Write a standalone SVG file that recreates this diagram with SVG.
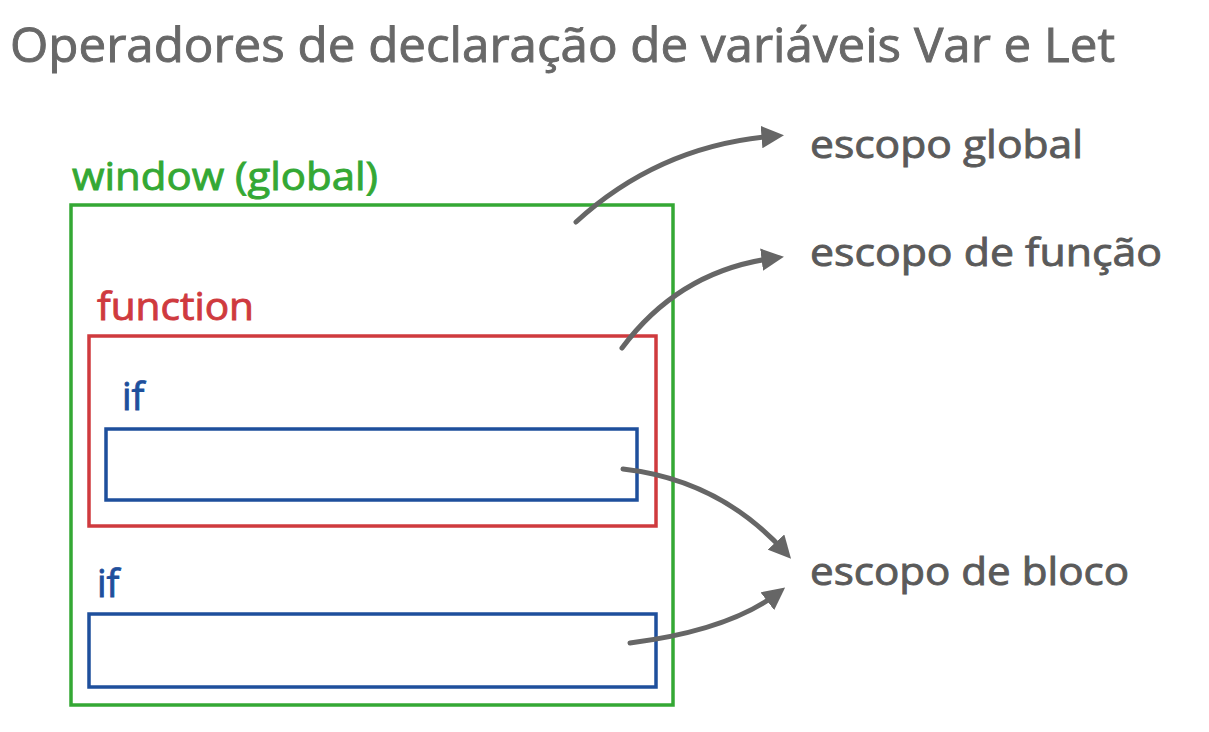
<svg xmlns="http://www.w3.org/2000/svg" width="1209" height="732" viewBox="0 0 1209 732">
<defs>
<marker id="ah" viewBox="0 0 10 10" refX="6" refY="5" markerWidth="4.5" markerHeight="4.5" orient="auto" markerUnits="strokeWidth">
<path d="M0,0 L10,5 L0,10 Z" fill="#666"/>
</marker>
<style>
text{font-family:"Open Sans","DejaVu Sans",sans-serif;font-weight:400;stroke-width:0.9;}
.t{font-size:47px;fill:#686868;stroke:#686868;}
.lbl{font-size:39px;fill:#5a5a5a;stroke:#5a5a5a;}
.g{fill:none;stroke:#34a834;stroke-width:3.5;}
.r{fill:none;stroke:#cf3a3e;stroke-width:3.5;}
.b{fill:none;stroke:#1e4f9c;stroke-width:3.5;}
.conn{fill:none;stroke:#666;stroke-width:5;stroke-linecap:round;marker-end:url(#ah);}
</style>
</defs>
<rect width="1209" height="732" fill="#fff"/>
<text class="t" x="10" y="62" textLength="1105" lengthAdjust="spacingAndGlyphs">Operadores de declaração de variáveis Var e Let</text>
<g id="window">
<rect class="g" x="71" y="205" width="602" height="500"/>
<text x="72" y="190" font-size="38" fill="#34a834" stroke="#34a834" textLength="306" lengthAdjust="spacingAndGlyphs">window (global)</text>
</g>
<g id="function">
<rect class="r" x="89" y="336" width="567" height="190"/>
<text x="97" y="320" font-size="38" fill="#cf3a3e" stroke="#cf3a3e" textLength="157" lengthAdjust="spacingAndGlyphs">function</text>
</g>
<g id="if1">
<rect class="b" x="106" y="429" width="531" height="71"/>
<text x="122" y="410" font-size="38" fill="#1e4f9c" stroke="#1e4f9c">if</text>
</g>
<g id="if2">
<rect class="b" x="89" y="614" width="567" height="73"/>
<text x="97" y="597" font-size="38" fill="#1e4f9c" stroke="#1e4f9c">if</text>
</g>
<g id="escopo-global"><text class="lbl" x="810" y="158" textLength="273" lengthAdjust="spacingAndGlyphs">escopo global</text></g>
<g id="escopo-funcao"><text class="lbl" x="810" y="266" textLength="352" lengthAdjust="spacingAndGlyphs">escopo de função</text></g>
<g id="escopo-bloco"><text class="lbl" x="810" y="585" textLength="319" lengthAdjust="spacingAndGlyphs">escopo de bloco</text></g>
<g id="connectors">
<path class="conn" d="M576,222 Q660,145 775,136"/>
<path class="conn" d="M622,348 Q680,270 775,258"/>
<path class="conn" d="M623,469 Q720,480 785,552"/>
<path class="conn" d="M630,643 Q730,630 778,593"/>
</g>
</svg>
